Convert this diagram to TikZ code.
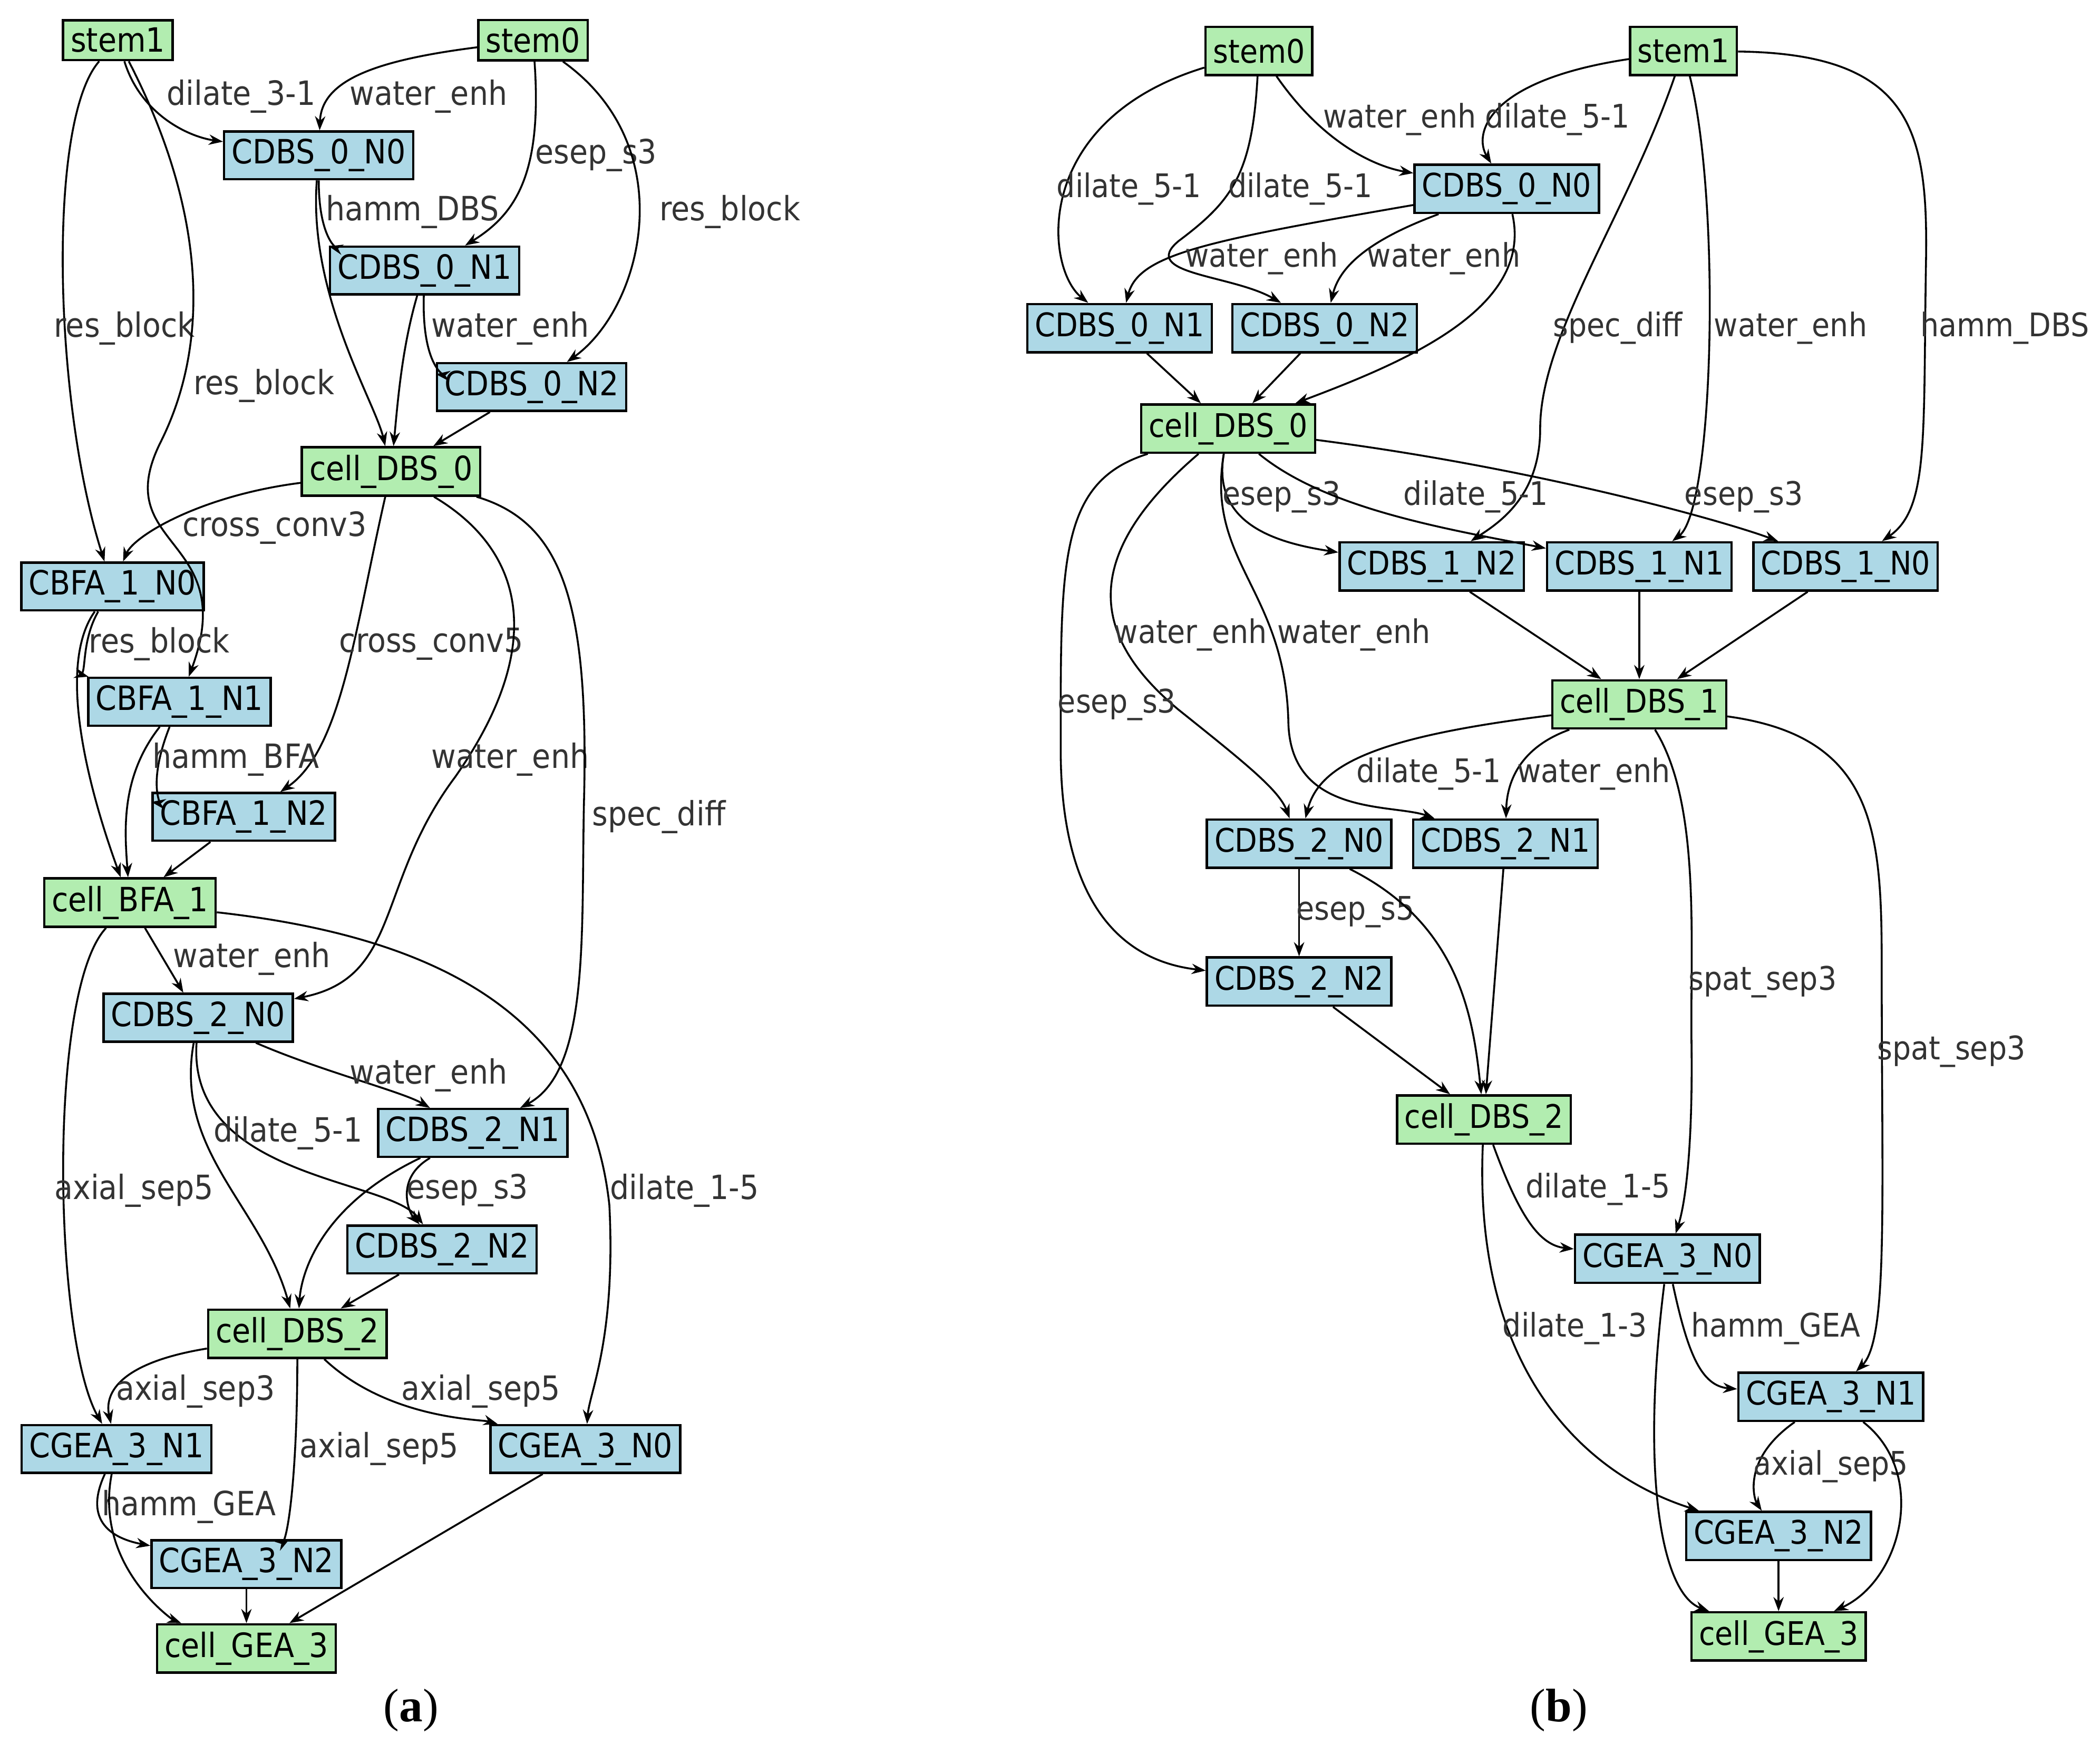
\documentclass[tikz,border=0pt]{standalone}
\usepackage{fontspec}
\setmainfont{DejaVu Sans Condensed}
\newfontfamily\capfont{Liberation Serif}
\usetikzlibrary{arrows.meta}
\definecolor{gbox}{HTML}{B2EDB0}
\definecolor{bbox}{HTML}{ADD8E6}
\begin{document}
\begin{tikzpicture}[x=0.01cm,y=-0.01cm,
 box/.style={draw,line width=0.5pt,inner sep=1.6pt,minimum height=0.28cm,font=\fontsize{7.1}{8}\selectfont},
 g/.style={box,fill=gbox}, b/.style={box,fill=bbox},
 gb/.style={g,minimum height=0.36cm,font=\fontsize{6.9}{8}\selectfont},
 bb/.style={b,minimum height=0.36cm,font=\fontsize{6.9}{8}\selectfont},
 e/.style={line width=0.4pt,-{Stealth[length=3pt,width=2.2pt]}},
 la/.style={font=\fontsize{7.1}{8}\selectfont,text=black!80,inner sep=0pt},
 lb/.style={font=\fontsize{6.9}{8}\selectfont,text=black!80,inner sep=0pt}]
\useasboundingbox (0,0) rectangle (1568,1302);
% ---------- panel a ----------
\node[g] (aS1) at (88,30) {stem1};
\node[g] (aS0) at (398,30) {stem0};
\node[b] (aN0) at (238,116) {CDBS\_0\_N0};
\node[b] (aN1) at (317,202) {CDBS\_0\_N1};
\node[b] (aN2) at (397,289) {CDBS\_0\_N2};
\node[g] (aC0) at (292,352) {cell\_DBS\_0};
\node[b] (aB0) at (84,438) {CBFA\_1\_N0};
\node[b] (aB1) at (134,524) {CBFA\_1\_N1};
\node[b] (aB2) at (182,610) {CBFA\_1\_N2};
\node[g] (aBF) at (97,674) {cell\_BFA\_1};
\node[b] (aD0) at (148,760) {CDBS\_2\_N0};
\node[b] (aD1) at (353,846) {CDBS\_2\_N1};
\node[b] (aD2) at (330,933) {CDBS\_2\_N2};
\node[g] (aC2) at (222,996) {cell\_DBS\_2};
\node[b] (aG1) at (87,1082) {CGEA\_3\_N1};
\node[b] (aG0) at (437,1082) {CGEA\_3\_N0};
\node[b] (aG2) at (184,1168) {CGEA\_3\_N2};
\node[g] (aGE) at (184,1231) {cell\_GEA\_3};

\draw[e] (aS1) .. controls (105,85) and (140,102) .. (aN0) node[la,at={(180,72)}]{dilate\_3-1};
\draw[e] (aS0) .. controls (280,45) and (240,60) .. (aN0) node[la,at={(320,72)}]{water\_enh};
\draw[e] (aS0) .. controls (405,130) and (385,160) .. (aN1) node[la,at={(445,116)}]{esep\_s3};
\draw[e] (aS0) .. controls (510,110) and (480,230) .. (aN2) node[la,at={(545,158)}]{res\_block};
\draw[e] (aS1) .. controls (35,90) and (40,300) .. (aB0) node[la,at={(93,245)}]{res\_block};
\draw[e] (aS1) .. controls (150,150) and (160,250) .. (120,330) .. controls (80,410) and (180,400) .. (aB1) node[la,at={(197,288)}]{res\_block};
\draw[e] (aN0) .. controls (238,175) and (250,185) .. (aN1) node[la,at={(308,158)}]{hamm\_DBS};
\draw[e] (aN0) .. controls (230,220) and (280,300) .. (aC0);
\draw[e] (aN1) .. controls (300,260) and (297,300) .. (aC0);
\draw[e] (aN1) .. controls (315,270) and (330,280) .. (aN2) node[la,at={(381,245)}]{water\_enh};
\draw[e] (aN2) -- (aC0);
\draw[e] (aC0) .. controls (150,370) and (100,400) .. (aB0) node[la,at={(205,394)}]{cross\_conv3};
\draw[e] (aC0) .. controls (265,470) and (255,560) .. (aB2) node[la,at={(322,481)}]{cross\_conv5};
\draw[e] (aC0) .. controls (390,410) and (410,480) .. (340,580) .. controls (280,660) and (300,730) .. (aD0) node[la,at={(381,567)}]{water\_enh};
\draw[e] (aC0) .. controls (420,390) and (440,450) .. (436,600) .. controls (434,700) and (440,800) .. (aD1) node[la,at={(492,610)}]{spec\_diff};
\draw[e] (aB0) .. controls (60,480) and (65,505) .. (aB1) node[la,at={(119,481)}]{res\_block};
\draw[e] (aB0) .. controls (40,500) and (70,600) .. (aBF);
\draw[e] (aB1) .. controls (90,580) and (93,620) .. (aBF);
\draw[e] (aB1) .. controls (110,585) and (120,600) .. (aB2) node[la,at={(176,567)}]{hamm\_BFA};
\draw[e] (aB2) -- (aBF);
\draw[e] (aBF) -- (aD0) node[la,at={(188,716)}]{water\_enh};
\draw[e] (aBF) .. controls (35,740) and (40,1000) .. (aG1) node[la,at={(100,889)}]{axial\_sep5};
\draw[e] (aBF) .. controls (330,700) and (440,760) .. (455,900) .. controls (460,1000) and (440,1040) .. (aG0) node[la,at={(511,889)}]{dilate\_1-5};
\draw[e] (aD0) .. controls (240,800) and (300,815) .. (aD1) node[la,at={(320,803)}]{water\_enh};
\draw[e] (aD0) .. controls (140,880) and (290,880) .. (aD2) node[la,at={(215,846)}]{dilate\_5-1};
\draw[e] (aD0) .. controls (130,860) and (195,900) .. (aC2);
\draw[e] (aD1) .. controls (295,880) and (305,905) .. (aD2) node[la,at={(349,889)}]{esep\_s3};
\draw[e] (aD1) .. controls (240,900) and (225,950) .. (aC2);
\draw[e] (aD2) -- (aC2);
\draw[e] (aC2) .. controls (75,1020) and (80,1050) .. (aG1) node[la,at={(146,1039)}]{axial\_sep3};
\draw[e] (aC2) .. controls (222,1100) and (215,1150) .. (aG2) node[la,at={(283,1082)}]{axial\_sep5};
\draw[e] (aC2) .. controls (290,1060) and (360,1060) .. (aG0) node[la,at={(359,1039)}]{axial\_sep5};
\draw[e] (aG1) .. controls (60,1140) and (90,1150) .. (aG2) node[la,at={(141,1125)}]{hamm\_GEA};
\draw[e] (aG1) .. controls (70,1170) and (130,1210) .. (aGE);
\draw[e] (aG2) -- (aGE);
\draw[e] (aG0) -- (aGE);
% ---------- panel b ----------
\node[gb] (bS0) at (940,38) {stem0};
\node[gb] (bS1) at (1257,38) {stem1};
\node[bb] (bN0) at (1125,141) {CDBS\_0\_N0};
\node[bb] (bN1) at (836,245) {CDBS\_0\_N1};
\node[bb] (bN2) at (989,245) {CDBS\_0\_N2};
\node[gb] (bC0) at (917,320) {cell\_DBS\_0};
\node[bb] (bD12) at (1069,423) {CDBS\_1\_N2};
\node[bb] (bD11) at (1224,423) {CDBS\_1\_N1};
\node[bb] (bD10) at (1378,423) {CDBS\_1\_N0};
\node[gb] (bC1) at (1224,526) {cell\_DBS\_1};
\node[bb] (bE0) at (970,630) {CDBS\_2\_N0};
\node[bb] (bE1) at (1124,630) {CDBS\_2\_N1};
\node[bb] (bE2) at (970,733) {CDBS\_2\_N2};
\node[gb] (bC2) at (1108,836) {cell\_DBS\_2};
\node[bb] (bG0) at (1245,940) {CGEA\_3\_N0};
\node[bb] (bG1) at (1367,1043) {CGEA\_3\_N1};
\node[bb] (bG2) at (1328,1147) {CGEA\_3\_N2};
\node[gb] (bGE) at (1328,1222) {cell\_GEA\_3};

\draw[e] (bS0) .. controls (990,110) and (1030,125) .. (bN0) node[lb,at={(1045,89)}]{water\_enh};
\draw[e] (bS1) .. controls (1110,60) and (1100,100) .. (bN0) node[lb,at={(1163,89)}]{dilate\_5-1};
\draw[e] (bS0) .. controls (770,90) and (780,200) .. (bN1) node[lb,at={(843,141)}]{dilate\_5-1};
\draw[e] (bS0) .. controls (935,130) and (920,150) .. (880,180) .. controls (850,205) and (920,205) .. (bN2) node[lb,at={(971,141)}]{dilate\_5-1};
\draw[e] (bN0) .. controls (900,180) and (850,190) .. (bN1) node[lb,at={(942,193)}]{water\_enh};
\draw[e] (bN0) .. controls (1020,180) and (1000,200) .. (bN2) node[lb,at={(1078,193)}]{water\_enh};
\draw[e] (bN0) .. controls (1145,230) and (1050,270) .. (bC0);
\draw[e] (bN1) -- (bC0);
\draw[e] (bN2) -- (bC0);
\draw[e] (bS1) .. controls (1215,160) and (1150,250) .. (1150,320) .. controls (1150,370) and (1120,390) .. (bD12) node[lb,at={(1208,245)}]{spec\_diff};
\draw[e] (bS1) .. controls (1285,150) and (1280,380) .. (bD11) node[lb,at={(1337,245)}]{water\_enh};
\draw[e] (bS1) .. controls (1430,40) and (1440,100) .. (1438,200) .. controls (1436,330) and (1440,380) .. (bD10) node[lb,at={(1497,245)}]{hamm\_DBS};
\draw[e] (bC0) .. controls (905,390) and (950,405) .. (bD12) node[lb,at={(957,371)}]{esep\_s3};
\draw[e] (bC0) .. controls (990,380) and (1080,395) .. (bD11) node[lb,at={(1102,371)}]{dilate\_5-1};
\draw[e] (bC0) .. controls (1150,350) and (1290,390) .. (bD10) node[lb,at={(1302,371)}]{esep\_s3};
\draw[e] (bC0) .. controls (800,420) and (820,480) .. (880,530) .. controls (930,570) and (955,590) .. (bE0) node[lb,at={(889,474)}]{water\_enh};
\draw[e] (bC0) .. controls (900,420) and (960,440) .. (962,540) .. controls (964,610) and (1040,600) .. (bE1) node[lb,at={(1011,474)}]{water\_enh};
\draw[e] (bC0) .. controls (790,360) and (792,420) .. (792,560) .. controls (792,700) and (860,720) .. (bE2) node[lb,at={(834,526)}]{esep\_s3};
\draw[e] (bD12) -- (bC1);
\draw[e] (bD11) -- (bC1);
\draw[e] (bD10) -- (bC1);
\draw[e] (bC1) .. controls (1030,550) and (985,570) .. (bE0) node[lb,at={(1067,578)}]{dilate\_5-1};
\draw[e] (bC1) .. controls (1130,560) and (1125,590) .. (bE1) node[lb,at={(1190,578)}]{water\_enh};
\draw[e] (bC1) .. controls (1270,600) and (1262,700) .. (1263,780) .. controls (1264,860) and (1258,900) .. (bG0) node[lb,at={(1316,733)}]{spat\_sep3};
\draw[e] (bC1) .. controls (1400,550) and (1405,620) .. (1405,720) .. controls (1405,900) and (1410,1000) .. (bG1) node[lb,at={(1457,785)}]{spat\_sep3};
\draw[e] (bE0) -- (bE2) node[lb,at={(1012,681)}]{esep\_s5};
\draw[e] (bE0) .. controls (1090,690) and (1100,760) .. (bC2);
\draw[e] (bE1) -- (bC2);
\draw[e] (bE2) -- (bC2);
\draw[e] (bC2) .. controls (1135,910) and (1150,930) .. (bG0) node[lb,at={(1193,888)}]{dilate\_1-5};
\draw[e] (bC2) .. controls (1100,1020) and (1180,1100) .. (bG2) node[lb,at={(1176,992)}]{dilate\_1-3};
\draw[e] (bG0) .. controls (1260,1010) and (1270,1035) .. (bG1) node[lb,at={(1326,992)}]{hamm\_GEA};
\draw[e] (bG0) .. controls (1225,1100) and (1240,1190) .. (bGE);
\draw[e] (bG1) .. controls (1300,1090) and (1310,1120) .. (bG2) node[lb,at={(1367,1095)}]{axial\_sep5};
\draw[e] (bG1) .. controls (1440,1100) and (1420,1180) .. (bGE);
\draw[e] (bG2) -- (bGE);
% captions
\node[font=\capfont\fontsize{10}{12}\selectfont] (capa) at (307,1277) {(\textbf{a})};
\node[font=\capfont\fontsize{10}{12}\selectfont] (capb) at (1164,1277) {(\textbf{b})};
\end{tikzpicture}
\end{document}
